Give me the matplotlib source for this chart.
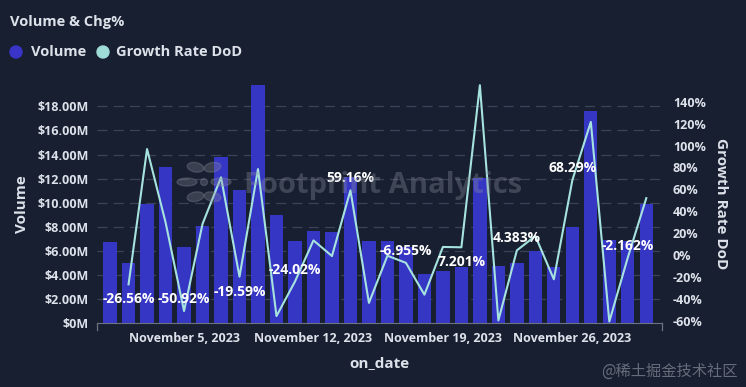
import numpy as np
import pandas as pd
import matplotlib
matplotlib.use("Agg")
import matplotlib.pyplot as plt
import matplotlib.dates as mdates
from matplotlib.ticker import FixedLocator, FuncFormatter
from matplotlib.patches import Ellipse

# data (Nov 1 - Nov 30, 2023)
dates = pd.date_range("2023-11-01", "2023-11-30", freq="D")
volume_m = [6.72, 4.98, 9.87, 12.95, 6.36, 8.10, 13.83, 11.06, 19.80, 8.99,
            6.83, 7.66, 7.60, 12.10, 6.83, 6.83, 6.35, 4.09, 4.38, 4.66,
            12.05, 4.78, 4.99, 6.00, 4.70, 7.97, 17.62, 6.94, 6.79, 9.87]
growth_pct = [np.nan, -26.56, 96.8, 30.0, -50.92, 28.5, 71.0, -19.59, 78.5, -55.5,
              -24.02, 13.5, -0.8, 59.16, -43.5, -0.5, -6.955, -36.0, 7.5, 7.201,
              155.0, -59.5, 4.383, 17.5, -22.0, 68.29, 121.5, -60.5, -2.162, 52.0]
label_days = [2, 5, 8, 11, 14, 17, 20, 23, 26, 29]
below_days = [2, 8, 20]  # labels that sit under the point
xtick_days = [5, 12, 19, 26]
left_ticks = [0, 2, 4, 6, 8, 10, 12, 14, 16, 18]
right_ticks = [-60, -40, -20, 0, 20, 40, 60, 80, 100, 120, 140]

# colours
bg = "#181f30"
bar_c = "#3636c4"
line_c = "#a6e3df"
txt = "#dde1ea"
grid_c = "#3b4356"
wm_c = "#8a8f9c"

plt.rcParams["font.family"] = ["Open Sans", "DejaVu Sans"]
plt.rcParams["font.weight"] = "bold"

fig = plt.figure(figsize=(7.46, 3.87), dpi=100, facecolor=bg)
ax = fig.add_axes([0.130, 0.1646, 0.757, 0.6184])
ax.set_facecolor(bg)
ax2 = ax.twinx()

vol = np.array(volume_m) * 1e6
ax.bar(dates, vol, width=0.72, color=bar_c, zorder=2)
ax.set_ylim(0, 19.86e6)
ax.set_xlim(dates[0] - pd.Timedelta(hours=17), dates[-1] + pd.Timedelta(hours=20))

ax.yaxis.set_major_locator(FixedLocator([v * 1e6 for v in left_ticks]))
ax.yaxis.set_major_formatter(FuncFormatter(
    lambda v, p: "$0M" if v == 0 else f"${v / 1e6:.2f}M"))
for v in left_ticks[1:]:
    ax.axhline(v * 1e6, color=grid_c, lw=0.9, ls=(0, (8, 5)), zorder=1)

ax2.plot(dates, growth_pct, color=line_c, lw=1.5, zorder=3)
ax2.set_ylim(-62.1, 156.1)
ax2.yaxis.set_major_locator(FixedLocator(right_ticks))
ax2.yaxis.set_major_formatter(FuncFormatter(lambda v, p: f"{v:.0f}%"))

for d in label_days:
    g = growth_pct[d - 1]
    off = -15 if d in below_days else 12
    ax2.annotate(f"{g:.4g}%", (dates[d - 1], g), xytext=(0, off),
                 textcoords="offset pixels", ha="center", va="center",
                 color="white", fontsize=10, fontweight="bold", zorder=5)

ax.xaxis.set_major_locator(FixedLocator([mdates.date2num(dates[d - 1]) for d in xtick_days]))
ax.xaxis.set_major_formatter(FuncFormatter(
    lambda v, p: mdates.num2date(v).strftime("%B %-d, %Y")))

for a in (ax, ax2):
    for s in a.spines.values():
        s.set_visible(False)
    a.tick_params(colors=txt, labelsize=9, length=0)
ax.spines["bottom"].set_visible(True)
ax.spines["bottom"].set_color("#6b7282")
ax.tick_params(axis="x", pad=6)
ax.tick_params(axis="y", pad=6)
ax2.tick_params(axis="y", pad=8)
ax.set_axisbelow(True)

# little end ticks on the date axis
xl = ax.get_xlim()
for xe in xl:
    ax.plot([xe, xe], [0, -0.03], transform=ax.get_xaxis_transform(),
            color="#6b7282", lw=0.9, clip_on=False)

ax.set_xlabel("on_date", color=txt, fontsize=11, fontweight="bold", labelpad=8)
ax.set_ylabel("Volume", color=txt, fontsize=11, fontweight="bold", labelpad=6)
ax2.set_ylabel("Growth Rate DoD", color=txt, fontsize=11, fontweight="bold",
               rotation=-90, labelpad=16)

# title and legend
fig.text(10 / 746, 1 - 22 / 387, "Volume & Chg%", color=txt, fontsize=10.5,
         fontweight="bold", va="center")
fig.patches.append(Ellipse((16 / 746, 1 - 52 / 387), 12 / 746, 12 / 387,
                           transform=fig.transFigure, color="#3a34c8"))
fig.text(31 / 746, 1 - 52 / 387, "Volume", color=txt, fontsize=10.5,
         fontweight="bold", va="center")
fig.patches.append(Ellipse((103 / 746, 1 - 52 / 387), 12 / 746, 12 / 387,
                           transform=fig.transFigure, color="#9fdcd8"))
fig.text(116 / 746, 1 - 52 / 387, "Growth Rate DoD", color=txt, fontsize=10.5,
         fontweight="bold", va="center")

# watermarks
fig.text(383 / 746, 1 - 186 / 387, "Footprint Analytics", color=wm_c,
         alpha=0.35, fontsize=21, fontweight="bold", ha="center", va="center",
         zorder=10)
cx, cy = 204 / 746, 1 - 182 / 387
for ang in range(0, 360, 60):
    r = np.deg2rad(ang)
    fig.patches.append(Ellipse((cx + 17 * np.cos(r) / 746, cy + 17 * np.sin(r) / 387),
                               20 / 746, 8 / 387, angle=ang,
                               transform=fig.transFigure, color=wm_c,
                               alpha=0.3, zorder=10))
fig.patches.append(Ellipse((cx, cy), 7 / 746, 7 / 387, transform=fig.transFigure,
                           color=wm_c, alpha=0.3, zorder=10))
fig.text(1 - 8 / 746, 1 - 371 / 387, "@稀土掘金技术社区", color="#9aa0ac",
         alpha=0.6, fontsize=11, ha="right", va="center",
         family=["Noto Sans CJK SC", "DejaVu Sans"], fontweight="normal")

fig.savefig("out.png", dpi=100, facecolor=bg)
